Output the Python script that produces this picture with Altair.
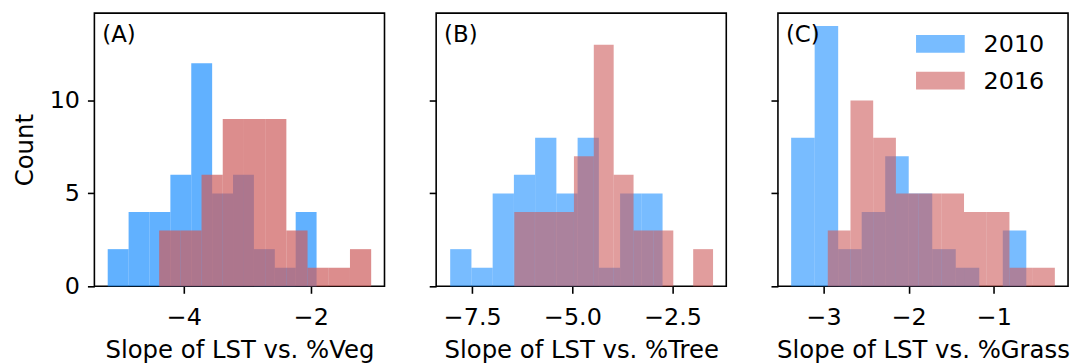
import altair as alt
import numpy as np
import pandas as pd

FONT = "DejaVu Sans"
BLUE = "#1E90FF"
RED = "#CD5C5C"

years = ["2010", "2016"]

# Histogram spans (first left edge, last right edge) and counts per bin, 10 bins each
veg_2010_span = [-5.20, -1.91]
veg_2010_counts = [2, 4, 4, 6, 12, 5, 6, 2, 1, 4]
veg_2016_span = [-4.39, -1.05]
veg_2016_counts = [3, 3, 6, 9, 9, 9, 3, 1, 1, 2]

tree_2010_span = [-8.05, -2.75]
tree_2010_counts = [2, 1, 5, 6, 8, 5, 8, 1, 5, 5]
tree_2016_span = [-6.45, -1.49]
tree_2016_counts = [4, 4, 4, 7, 13, 6, 3, 3, 0, 2]

grass_2010_span = [-3.38, -0.62]
grass_2010_counts = [8, 14, 2, 4, 7, 5, 2, 1, 0, 3]
grass_2016_span = [-2.95, -0.285]
grass_2016_counts = [3, 10, 8, 5, 5, 5, 4, 4, 1, 1]

panel_tags = ["(A)", "(B)", "(C)"]
x_titles = ["Slope of LST vs. %Veg", "Slope of LST vs. %Tree", "Slope of LST vs. %Grass"]
x_domains = [[-5.41, -0.84], [-8.40, -1.16], [-3.535, -0.13]]
x_ticks = [[-4, -2], [-7.5, -5.0, -2.5], [-3, -2, -1]]
x_formats = ["d", ".1f", "d"]
y_ticks = [0, 5, 10]
y_max = 14.7

W, H = 292, 275


def hist_frame(span, counts, year):
    edges = np.linspace(span[0], span[1], len(counts) + 1)
    return pd.DataFrame({"lo": edges[:-1], "hi": edges[1:], "count": counts, "year": year})


def panel(i, blue_df, red_df, alpha, show_y=False, legend=False):
    x_axis = alt.Axis(values=x_ticks[i], format=x_formats[i], title=x_titles[i], labelFlush=False)
    if show_y:
        y_axis = alt.Axis(values=y_ticks, title="Count")
    else:
        y_axis = alt.Axis(values=y_ticks, labels=False, title="")
    x = alt.X("lo:Q", scale=alt.Scale(domain=x_domains[i], nice=False, zero=False), axis=x_axis)
    x2 = alt.X2("hi:Q")
    y = alt.Y("count:Q", scale=alt.Scale(domain=[0, y_max], nice=False), axis=y_axis)
    y2 = alt.datum(0)

    blue = alt.Chart(blue_df).mark_rect(color=BLUE, opacity=alpha).encode(x=x, x2=x2, y=y, y2=y2)
    red = alt.Chart(red_df).mark_rect(color=RED, opacity=alpha).encode(x=x, x2=x2, y=y, y2=y2)

    tag = alt.Chart(pd.DataFrame({"tag": [panel_tags[i]]})).mark_text(
        font=FONT, fontSize=23, color="black", align="left", baseline="alphabetic"
    ).encode(x=alt.value(8), y=alt.value(29), text="tag:N")

    layers = [blue, red, tag]
    if legend:
        for k, (year, col) in enumerate(zip(years, [BLUE, RED])):
            top = 22 + 37 * k
            swatch = alt.Chart(pd.DataFrame({"year": [year]})).mark_rect(
                color=col, opacity=alpha
            ).encode(x=alt.value(139), x2=alt.value(188), y=alt.value(top), y2=alt.value(top + 18))
            label = alt.Chart(pd.DataFrame({"year": [year]})).mark_text(
                font=FONT, fontSize=24, color="black", align="left", baseline="alphabetic"
            ).encode(x=alt.value(207), y=alt.value(top + 17), text="year:N")
            layers += [swatch, label]
    return alt.layer(*layers).properties(width=W, height=H)


pA = panel(0, hist_frame(veg_2010_span, veg_2010_counts, "2010"),
           hist_frame(veg_2016_span, veg_2016_counts, "2016"), 0.7, show_y=True)
pB = panel(1, hist_frame(tree_2010_span, tree_2010_counts, "2010"),
           hist_frame(tree_2016_span, tree_2016_counts, "2016"), 0.6)
pC = panel(2, hist_frame(grass_2010_span, grass_2010_counts, "2010"),
           hist_frame(grass_2016_span, grass_2016_counts, "2016"), 0.6, legend=True)

chart = (
    alt.hconcat(pA, pB, pC, spacing=42)
    .properties(padding={"left": 11, "top": 11, "right": 5, "bottom": 0})
    .configure_view(stroke="black", strokeWidth=1.6)
    .configure_axis(
        domain=False, grid=False,
        tickColor="black", tickWidth=1.6, tickSize=7,
        labelFont=FONT, labelFontSize=24, labelColor="black",
        titleFont=FONT, titleFontSize=24.5, titleColor="black", titleFontWeight="normal",
    )
    .configure_axisX(labelPadding=12.5, titlePadding=9)
    .configure_axisY(labelPadding=8, titlePadding=12)
)

chart.save("out.html", embed_options={"renderer": "svg", "actions": False})
